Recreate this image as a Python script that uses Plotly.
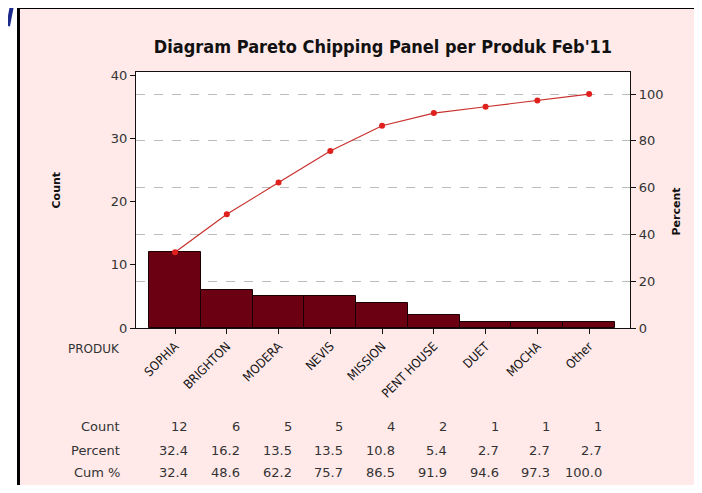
import plotly.graph_objects as go

categories = ["SOPHIA", "BRIGHTON", "MODERA", "NEVIS", "MISSION", "PENT HOUSE", "DUET", "MOCHA", "Other"]
counts = [12, 6, 5, 5, 4, 2, 1, 1, 1]
percents = [32.4, 16.2, 13.5, 13.5, 10.8, 5.4, 2.7, 2.7, 2.7]
cum_percents = [32.4, 48.6, 62.2, 75.7, 86.5, 91.9, 94.6, 97.3, 100.0]
left_ticks = [0, 10, 20, 30, 40]
right_ticks = [0, 20, 40, 60, 80, 100]
total = sum(counts)

OFF = 8  # page body margin
W, H = 702 - 2 * OFF, 493 - 2 * OFF
# plot area in page pixel coordinates
L, R, T, B = 136, 630, 72, 328

def px(x):
    return (x - L) / (R - L)

def py(y):
    return (B - y) / (B - T)

FONT = "DejaVu Sans"
PINK = "#ffe9e9"

fig = go.Figure()
fig.add_trace(go.Bar(
    x=categories, y=counts,
    marker=dict(color="#6b0012", line=dict(color="#1a0000", width=1)),
    width=1.0, yaxis="y", showlegend=False,
))
fig.add_trace(go.Scatter(
    x=categories, y=cum_percents, yaxis="y2", mode="lines+markers",
    line=dict(color="#c8302c", width=1.2),
    marker=dict(color="#e0201c", size=6),
    showlegend=False,
))

ymax = 40.5
fig.update_layout(
    width=W, height=H,
    margin=dict(l=L - OFF, r=W - (R - OFF), t=T - OFF, b=H - (B - OFF)),
    paper_bgcolor=PINK, plot_bgcolor="white",
    bargap=0,
    title=dict(text="<b>Diagram Pareto Chipping Panel per Produk Feb'11</b>",
               x=(383 - OFF) / W, xanchor="center", y=1 - (47 - OFF) / H, yanchor="middle",
               font=dict(family="DejaVu Sans Condensed", size=18, color="#111")),
    xaxis=dict(type="category", range=[-0.754, 8.79], showline=True, linecolor="#111",
               linewidth=1.2, mirror=True, ticks="outside", ticklen=5, tickcolor="#111",
               tickangle=-45, tickfont=dict(family="DejaVu Sans Condensed", size=12.5, color="#111"),
               showgrid=False),
    yaxis=dict(range=[0, ymax], tickvals=left_ticks, showline=True, linecolor="#111",
               linewidth=1.2, ticks="outside", ticklen=5, tickcolor="#111",
               tickfont=dict(family=FONT, size=13, color="#333"), showgrid=False,
               zeroline=False),
    yaxis2=dict(range=[0, ymax / total * 100], tickvals=right_ticks, overlaying="y",
                side="right", showline=True, linecolor="#111", linewidth=1.2,
                ticks="outside", ticklen=5, tickcolor="#111",
                tickfont=dict(family=FONT, size=13, color="#333"),
                showgrid=True, gridcolor="#bbbbbb", griddash="dash", gridwidth=1,
                zeroline=False),
)

shapes = [
    dict(type="rect", xref="paper", yref="paper", x0=px(0), x1=px(18), y0=py(0), y1=py(493),
         fillcolor="white", line=dict(width=0), layer="below"),
    dict(type="rect", xref="paper", yref="paper", x0=px(0), x1=px(702), y0=py(0), y1=py(7.5),
         fillcolor="white", line=dict(width=0), layer="below"),
    dict(type="rect", xref="paper", yref="paper", x0=px(686), x1=px(702), y0=py(10), y1=py(493),
         fillcolor=PINK, line=dict(width=0), layer="above"),
    dict(type="line", xref="paper", yref="paper", x0=px(18.5), x1=px(702), y0=py(7.5), y1=py(7.5),
         line=dict(color="black", width=3)),
    dict(type="line", xref="paper", yref="paper", x0=px(18.5), x1=px(18.5), y0=py(6), y1=py(493),
         line=dict(color="black", width=3)),
    dict(type="line", xref="paper", yref="paper", x0=px(13), x1=px(8), y0=py(0), y1=py(26),
         line=dict(color="#1c2a8c", width=4)),
]
fig.update_layout(shapes=shapes)

ann = []
ann.append(dict(text="<b>Count</b>", x=px(47), y=py(190), xref="paper", yref="paper",
                textangle=-90, showarrow=False, font=dict(family=FONT, size=11, color="#111")))
ann.append(dict(text="<b>Percent</b>", x=px(684), y=py(212), xref="paper", yref="paper",
                textangle=-90, showarrow=False, font=dict(family=FONT, size=11, color="#111")))
ann.append(dict(text="PRODUK", x=px(122), y=py(349), xref="paper", yref="paper",
                xanchor="right", yanchor="middle", showarrow=False,
                font=dict(family=FONT, size=12, color="#333")))

row_labels = ["Count", "Percent", "Cum %"]
row_y = [426, 450, 472]
rows = [[str(c) for c in counts], [f"{p:.1f}" for p in percents], [f"{p:.1f}" for p in cum_percents]]
for lab, yy, vals in zip(row_labels, row_y, rows):
    ann.append(dict(text=lab, x=px(122), y=py(yy), xref="paper", yref="paper",
                    xanchor="right", yanchor="middle", showarrow=False,
                    font=dict(family=FONT, size=13, color="#333")))
    for cat, v in zip(categories, vals):
        ann.append(dict(text=v, x=cat, y=py(yy), xref="x", yref="paper", xshift=15,
                        xanchor="right", yanchor="middle", showarrow=False,
                        font=dict(family=FONT, size=13, color="#333")))
fig.update_layout(annotations=ann)

fig.write_html("out.html")
